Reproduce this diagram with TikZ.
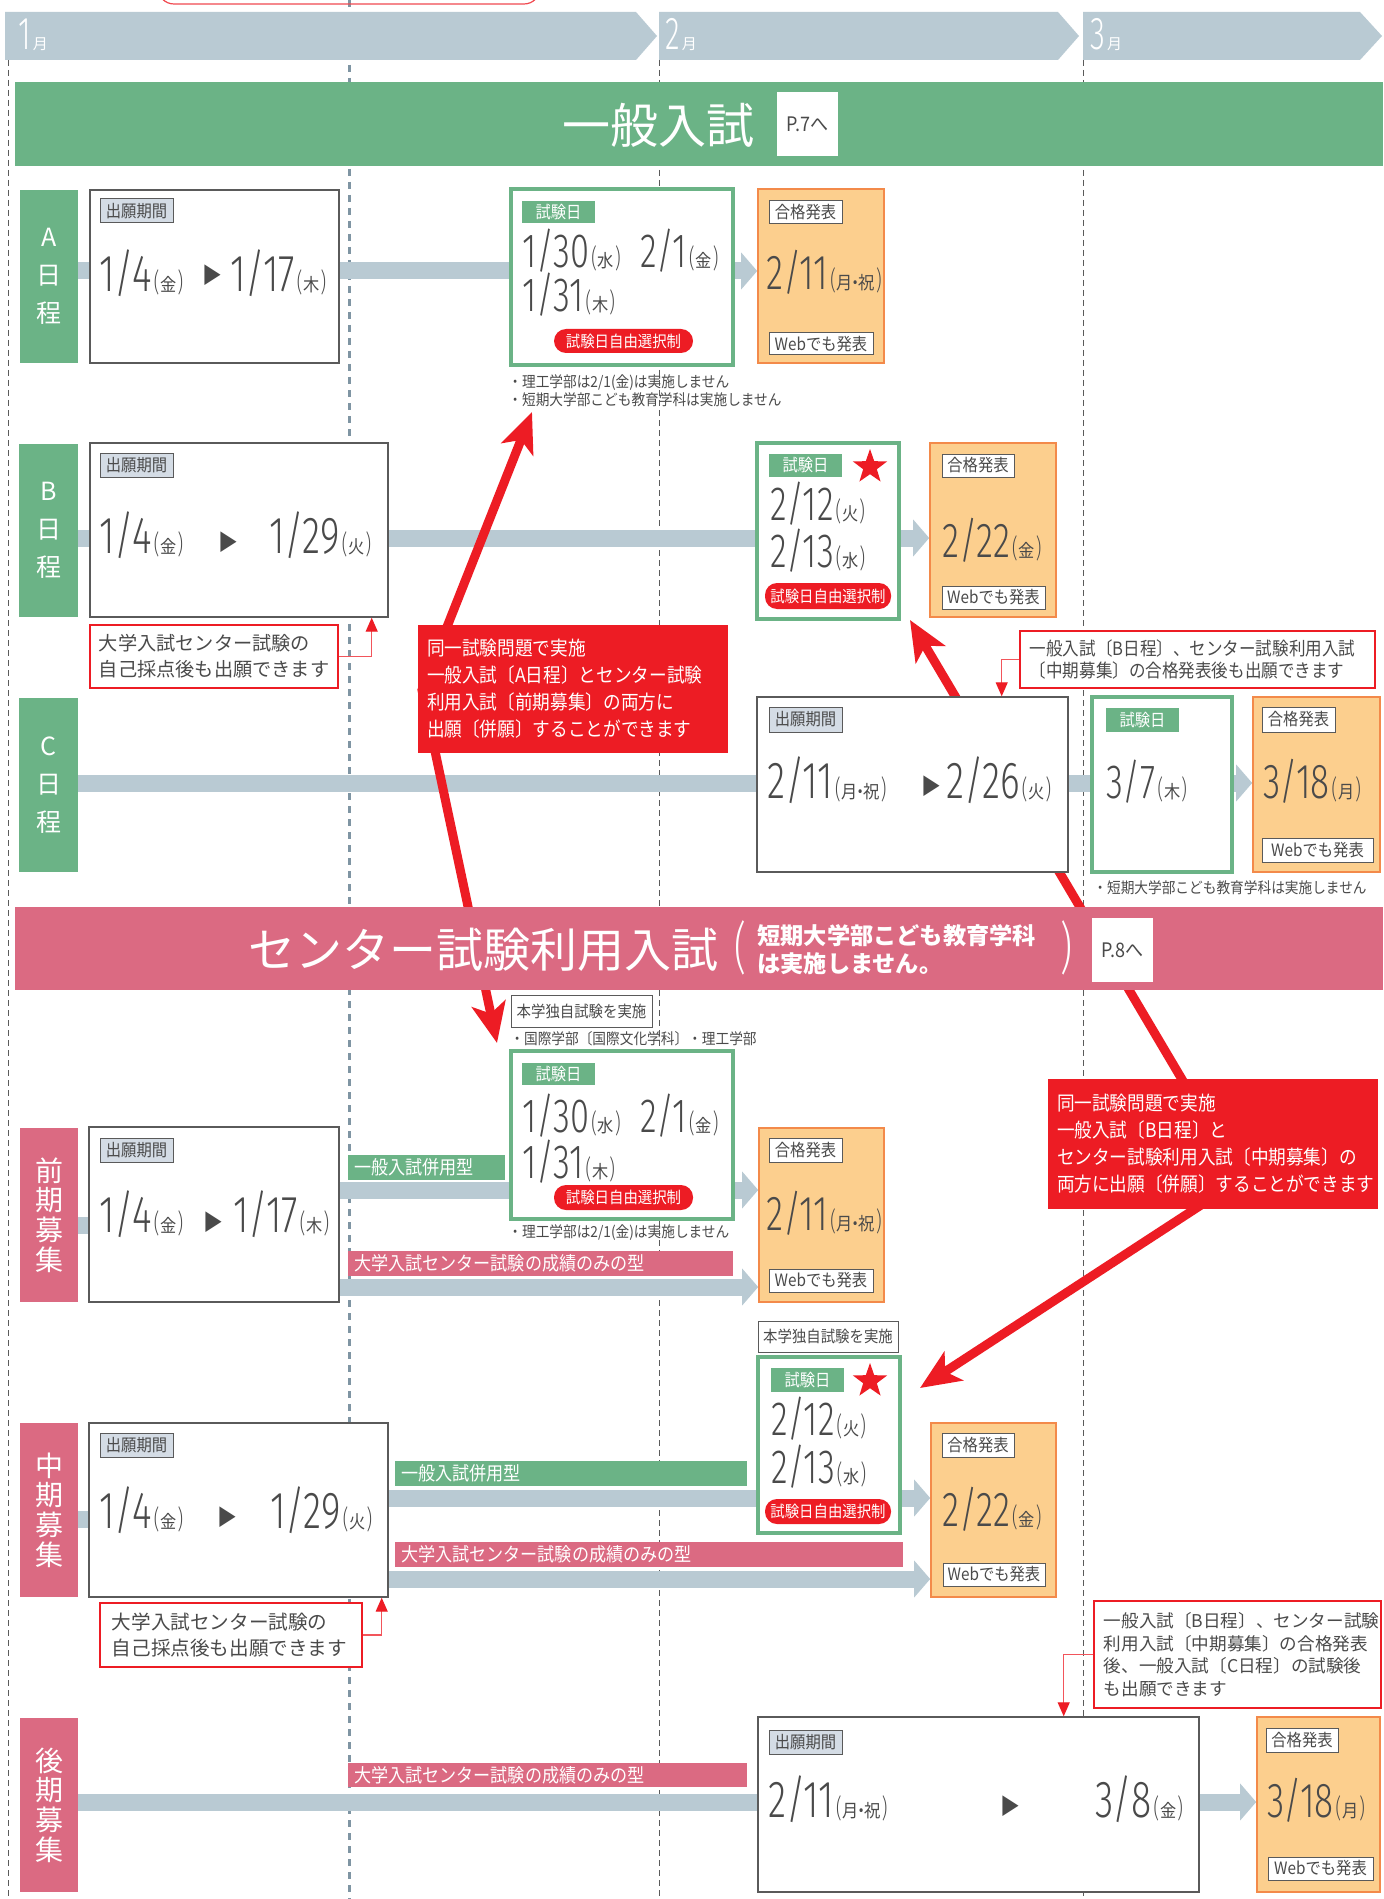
\documentclass[tikz,border=0pt]{standalone}
\usepackage{fontspec}
\setmainfont{Noto Sans CJK JP}
\newfontfamily\jpw{Noto Sans CJK JP}
\newfontfamily\jp{Noto Sans CJK JP}[FakeStretch=0.9]
\newfontfamily\numf{Fira Sans}[UprightFont=* Light, FakeStretch=0.66]
\newfontfamily\bignum{Fira Sans}[UprightFont=* Light, FakeStretch=0.72]
\usetikzlibrary{arrows.meta,fit,shapes.geometric,backgrounds}
\pgfdeclarelayer{bg}
\pgfdeclarelayer{mid}
\pgfsetlayers{bg,mid,main}
\definecolor{bgrey}{HTML}{B9CAD3}
\definecolor{jgreen}{HTML}{6BB386}
\definecolor{jpink}{HTML}{DB6A82}
\definecolor{jred}{HTML}{ED1C24}
\definecolor{ofill}{HTML}{FCCF8E}
\definecolor{oline}{HTML}{F38A4A}
\definecolor{tfill}{HTML}{D4DCE5}
\definecolor{tgrey}{HTML}{4A4A4A}
\definecolor{dgrey}{HTML}{5A5A5A}
\definecolor{dblue}{HTML}{7F95A3}
\newcommand\wday[1]{{\numf\fontsize{13}{13}\selectfont(}\kern0.5pt{\jp\fontsize{9}{9}\selectfont #1}\kern0.5pt{\numf\fontsize{13}{13}\selectfont)}}
\newcommand\dapp[2]{{\bignum\fontsize{26}{26}\selectfont #1}\kern1pt\wday{#2}}
\newcommand\dexam[2]{{\bignum\fontsize{24}{24}\selectfont #1}\kern1pt\wday{#2}}
\newcommand\dres[2]{{\bignum\fontsize{24.5}{24.5}\selectfont #1}\kern1pt\wday{#2}}
\newcommand\hol{月\kern-2.6pt・\kern-2.6pt祝}
\newcommand\monthlbl[1]{{\numf\fontsize{23}{23}\selectfont #1}\kern1pt{\jpw\fontsize{7.5}{7.5}\selectfont 月}}
\newcommand\tagf{\jp\fontsize{8.5}{8.5}\selectfont}

\begin{document}
\begin{tikzpicture}[x=0.5pt, y=-0.5pt,
  every node/.style={inner sep=0pt, text=tgrey},
  side/.style={fill=jgreen, label={[text=white, align=center, font=\jpw\fontsize{12.5}{19}\selectfont]center:#1}},
  side2/.style={fill=jpink, label={[text=white, align=center, font=\jpw\fontsize{14}{14.8}\selectfont]center:#1}},
  appbox/.style={draw=dgrey, line width=0.7pt, fill=white},
  exambox/.style={draw=jgreen, line width=2pt, fill=white},
  resbox/.style={draw=oline, line width=0.8pt, fill=ofill},
  tagbox/.style={draw=dgrey, line width=0.5pt, fill=tfill, label={[font=\tagf]center:#1}},
  wtag/.style={draw=dgrey, line width=0.5pt, fill=white, label={[font=\tagf]center:#1}},
  htag/.style={draw=dgrey, line width=0.5pt, fill=white, label={[font=\jp\fontsize{8}{8}\selectfont]center:#1}},
  etag/.style={fill=jgreen, label={[text=white, font=\tagf]center:#1}},
  pill/.style={fill=jred, rounded corners=6pt, label={[text=white, font=\jp\fontsize{8}{8}\selectfont]center:#1}},
  tagtxt/.style={anchor=west, inner xsep=3pt, text=white, font=\jp\fontsize{9.5}{9.5}\selectfont},
  note/.style={draw=jred, line width=0.6pt, fill=white},
  notetxt/.style={anchor=west, align=left},
  callout/.style={fill=jred, label={[anchor=west, inner xsep=4.5pt, align=left, text=white, font=\jp\fontsize{9.8}{13.5}\selectfont]west:#1}},
  small/.style={anchor=west, align=left, font=\jp\fontsize{7.6}{9}\selectfont},
  datef/.style={anchor=base west},
  tri/.style={font=\jp\fontsize{11}{11}\selectfont},
  redstar/.style={star, star points=5, star point ratio=2.5, fill=jred, minimum size=18pt},
  bar/.style={draw=bgrey, line width=8.5pt},
  barhead/.style={bar, -{Triangle[length=8pt, width=18pt]}},
  redline/.style={draw=jred, line width=4.5pt, {Stealth[length=20pt, width=17pt, inset=5pt]}-{Stealth[length=20pt, width=17pt, inset=5pt]}},
  notearrow/.style={draw=jred!75, line width=0.6pt, -{Triangle[length=7pt, width=6pt, color=jred]}}]
\clip (0,0) rectangle (1383,1899);
\useasboundingbox (0,0) rectangle (1383,1899);

% banners
\node[fill=jgreen, fit={(15,82) (1383,166)}] (gen) {};
\node[text=white, font=\jpw\fontsize{24}{24}\selectfont] (genT) at (658,125) {一般入試};
\node[fill=white, fit={(777,92) (838,156)}, label={[font=\jp\fontsize{10}{10}\selectfont]center:P.7へ}] (genP) {};
\node[fill=jpink, fit={(15,907) (1383,990)}] (cen) {};
\node[text=white, font=\jpw\fontsize{23.5}{23.5}\selectfont] (cenT) at (483,950) {センター試験利用入試};
\node[text=white, font=\numf\fontsize{28}{28}\selectfont] (cenL) at (740,948) {(};
\node[text=white, anchor=west, align=left, font=\jpw\bfseries\fontsize{11.6}{14}\selectfont] (cenS) at (757,950) {短期大学部こども教育学科\\は実施しません。};
\node[text=white, font=\numf\fontsize{28}{28}\selectfont] (cenR) at (1066,948) {)};
\node[fill=white, fit={(1092,918) (1153,982)}, label={[font=\jp\fontsize{10}{10}\selectfont]center:P.8へ}] (cenP) {};

% A
\node[side=A\\日\\程, fit={(20,190) (78,363)}] (aL) {};
\node[appbox, fit={(90,190) (339,363)}] (aA) {};
\node[tagbox=出願期間, fit={(100,199) (173,223)}] (aAt) {};
\node[datef] (aD1) at (99,292) {\dapp{1/4}{金}};
\node[tri] (aTri) at (212,275) {▶};
\node[datef] (aD2) at (230,292) {\dapp{1/17}{木}};
\node[exambox, fit={(511,189) (733,365)}] (aE) {};
\node[etag=試験日, fit={(522,201) (595,223)}] (aEt) {};
\node[datef] (aE1) at (522,268) {\dexam{1/30}{水}};
\node[datef] (aE2) at (640,268) {\dexam{2/1}{金}};
\node[datef] (aE3) at (522,312) {\dexam{1/31}{木}};
\node[pill=試験日自由選択制, fit={(554,329) (693,353)}] (aEp) {};
\node[small] (aN) at (508,391) {・理工学部は2/1(金)は実施しません\\・短期大学部こども教育学科は実施しません};
\node[resbox, fit={(758,189) (884,363)}] (aR) {};
\node[wtag=合格発表, fit={(769,201) (842,224)}] (aRt) {};
\node[datef] (aR1) at (766,290) {\dres{2/11}{\hol}};
\node[wtag=Webでも発表, fit={(769,333) (873,355)}] (aRw) {};

% B
\node[side=B\\日\\程, fit={(19,444) (78,617)}] (bL) {};
\node[appbox, fit={(90,443) (388,617)}] (bA) {};
\node[tagbox=出願期間, fit={(100,453) (173,477)}] (bAt) {};
\node[datef] (bD1) at (99,553) {\dapp{1/4}{金}};
\node[tri] (bTri) at (228,542) {▶};
\node[datef] (bD2) at (269,553) {\dapp{1/29}{火}};
\node[exambox, fit={(757,443) (899,619)}] (bE) {};
\node[etag=試験日, fit={(769,454) (842,477)}] (bEt) {};
\node[redstar] (bS) at (870,467) {};
\node[datef] (bE1) at (770,520) {\dexam{2/12}{火}};
\node[datef] (bE2) at (770,567) {\dexam{2/13}{水}};
\node[pill=試験日自由選択制, fit={(765,583) (891,609)}] (bEp) {};
\node[resbox, fit={(930,443) (1056,617)}] (bR) {};
\node[wtag=合格発表, fit={(942,454) (1014,477)}] (bRt) {};
\node[datef] (bR1) at (942,557) {\dres{2/22}{金}};
\node[wtag=Webでも発表, fit={(942,586) (1045,609)}] (bRw) {};
\node[note, fit={(90,625) (338,688)}, label={[notetxt, inner xsep=4.5pt, font=\jpw\fontsize{9.6}{13}\selectfont]west:大学入試センター試験の\\自己採点後も出願できます}] (bN) {};

% C
\node[side=C\\日\\程, fit={(19,698) (78,872)}] (cL) {};
\node[appbox, fit={(757,697) (1068,872)}] (cA) {};
\node[tagbox=出願期間, fit={(769,707) (842,732)}] (cAt) {};
\node[datef] (cD1) at (767,798) {\dapp{2/11}{\hol}};
\node[tri] (cTri) at (931,786) {▶};
\node[datef] (cD2) at (946,798) {\dapp{2/26}{火}};
\node[exambox, fit={(1092,697) (1232,872)}] (cE) {};
\node[etag=試験日, fit={(1106,708) (1179,732)}] (cEt) {};
\node[datef] (cE1) at (1106,798) {\dexam{3/7}{木}};
\node[resbox, fit={(1253,697) (1380,872)}] (cR) {};
\node[wtag=合格発表, fit={(1262,707) (1335,732)}] (cRt) {};
\node[datef] (cR1) at (1263,798) {\dres{3/18}{月}};
\node[wtag=Webでも発表, fit={(1262,838) (1373,862)}] (cRw) {};
\node[small] (cN) at (1093,888) {・短期大学部こども教育学科は実施しません};
\node[note, fit={(1020,631) (1375,688)}, label={[notetxt, inner xsep=5pt, font=\jp\fontsize{9.2}{11}\selectfont]west:一般入試〔B日程〕、センター試験利用入試\\〔中期募集〕の合格発表後も出願できます}] (cNote) {};
\node[callout=同一試験問題で実施\\一般入試〔A日程〕とセンター試験\\利用入試〔前期募集〕の両方に\\出願〔併願〕することができます, fit={(418,625) (728,753)}] (call1) {};

% zenki
\node[side2=前\\期\\募\\集, fit={(20,1128) (78,1302)}] (fL) {};
\node[appbox, fit={(89,1127) (339,1302)}] (fA) {};
\node[tagbox=出願期間, fit={(100,1138) (173,1162)}] (fAt) {};
\node[datef] (fD1) at (99,1232) {\dapp{1/4}{金}};
\node[tri] (fTri) at (213,1222) {▶};
\node[datef] (fD2) at (233,1232) {\dapp{1/17}{木}};
\node[fill=jgreen, fit={(348,1155) (505,1180)}, label={[tagtxt]west:一般入試併用型}] (fG) {};
\node[fill=jpink, fit={(348,1251) (733,1276)}, label={[tagtxt]west:大学入試センター試験の成績のみの型}] (fP) {};
\node[htag=本学独自試験を実施, fit={(511,995) (652,1027)}] (fH) {};
\node[small] (fHn) at (510,1039) {・国際学部〔国際文化学科〕・理工学部};
\node[exambox, fit={(511,1051) (733,1219)}] (fE) {};
\node[etag=試験日, fit={(522,1063) (595,1085)}] (fEt) {};
\node[datef] (fE1) at (522,1132) {\dexam{1/30}{水}};
\node[datef] (fE2) at (640,1132) {\dexam{2/1}{金}};
\node[datef] (fE3) at (522,1178) {\dexam{1/31}{木}};
\node[pill=試験日自由選択制, fit={(554,1185) (693,1210)}] (fEp) {};
\node[small] (fN) at (508,1233) {・理工学部は2/1(金)は実施しません};
\node[resbox, fit={(759,1128) (884,1302)}] (fR) {};
\node[wtag=合格発表, fit={(769,1138) (842,1162)}] (fRt) {};
\node[datef] (fR1) at (766,1230) {\dres{2/11}{\hol}};
\node[wtag=Webでも発表, fit={(769,1269) (873,1292)}] (fRw) {};

% chuki
\node[side2=中\\期\\募\\集, fit={(20,1423) (78,1597)}] (mL) {};
\node[appbox, fit={(89,1423) (388,1597)}] (mA) {};
\node[tagbox=出願期間, fit={(100,1433) (173,1457)}] (mAt) {};
\node[datef] (mD1) at (99,1528) {\dapp{1/4}{金}};
\node[tri] (mTri) at (227,1517) {▶};
\node[datef] (mD2) at (270,1528) {\dapp{1/29}{火}};
\node[fill=jgreen, fit={(395,1461) (747,1486)}, label={[tagtxt]west:一般入試併用型}] (mG) {};
\node[fill=jpink, fit={(395,1542) (903,1567)}, label={[tagtxt]west:大学入試センター試験の成績のみの型}] (mP) {};
\node[htag=本学独自試験を実施, fit={(758,1321) (898,1352)}] (mH) {};
\node[exambox, fit={(758,1357) (900,1533)}] (mE) {};
\node[etag=試験日, fit={(771,1368) (844,1392)}] (mEt) {};
\node[redstar] (mS) at (870,1381) {};
\node[datef] (mE1) at (771,1435) {\dexam{2/12}{火}};
\node[datef] (mE2) at (771,1483) {\dexam{2/13}{水}};
\node[pill=試験日自由選択制, fit={(765,1499) (891,1524)}] (mEp) {};
\node[resbox, fit={(931,1423) (1056,1597)}] (mR) {};
\node[wtag=合格発表, fit={(942,1433) (1014,1457)}] (mRt) {};
\node[datef] (mR1) at (942,1526) {\dres{2/22}{金}};
\node[wtag=Webでも発表, fit={(943,1563) (1045,1586)}] (mRw) {};
\node[note, fit={(100,1603) (362,1667)}, label={[notetxt, inner xsep=6pt, font=\jpw\fontsize{9.8}{13}\selectfont]west:大学入試センター試験の\\自己採点後も出願できます}] (mN) {};
\node[callout=同一試験問題で実施\\一般入試〔B日程〕と\\センター試験利用入試〔中期募集〕の\\両方に出願〔併願〕することができます, fit={(1048,1079) (1378,1209)}] (call2) {};

% koki
\node[side2=後\\期\\募\\集, fit={(20,1718) (78,1892)}] (lL) {};
\node[fill=jpink, fit={(348,1763) (747,1787)}, label={[tagtxt]west:大学入試センター試験の成績のみの型}] (lP) {};
\node[appbox, fit={(758,1717) (1199,1892)}] (lA) {};
\node[tagbox=出願期間, fit={(769,1730) (842,1754)}] (lAt) {};
\node[datef] (lD1) at (768,1817) {\dapp{2/11}{\hol}};
\node[tri] (lTri) at (1010,1806) {▶};
\node[datef] (lD2) at (1095,1817) {\dapp{3/8}{金}};
\node[resbox, fit={(1257,1717) (1380,1892)}] (lR) {};
\node[wtag=合格発表, fit={(1266,1728) (1338,1752)}] (lRt) {};
\node[datef] (lR1) at (1267,1817) {\dres{3/18}{月}};
\node[wtag=Webでも発表, fit={(1268,1857) (1373,1880)}] (lRw) {};
\node[note, fit={(1094,1601) (1381,1708)}, label={[notetxt, inner xsep=5pt, font=\jpw\fontsize{8.8}{11.3}\selectfont]west:一般入試〔B日程〕、センター試験\\利用入試〔中期募集〕の合格発表\\後、一般入試〔C日程〕の試験後\\も出願できます}] (lN) {};

% months
\node[anchor=base west, text=white] (mon1) at (18,50) {\monthlbl{1}};
\node[anchor=base west, text=white] (mon2) at (665,50) {\monthlbl{2}};
\node[anchor=base west, text=white] (mon3) at (1090,50) {\monthlbl{3}};

\begin{pgfonlayer}{bg}
\fill[white] (0,0) rectangle (1383,1899);
\draw[dgrey, line width=0.5pt, dash pattern=on 3pt off 2pt] (8,60) -- (8,1899);
\draw[dgrey, line width=0.5pt, dash pattern=on 3pt off 2pt] (659,60) -- (659,1899);
\draw[dgrey, line width=0.5pt, dash pattern=on 3pt off 2pt] (1083,60) -- (1083,1899);
\draw[dblue, line width=1.5pt, dash pattern=on 3.5pt off 3pt] (349,0) -- (349,1899);
\draw[jred!80, line width=0.6pt, rounded corners=8pt] (158,-40) rectangle (540,4);
\fill[bgrey] (5,12) -- (636,12) -- (657,36) -- (636,60) -- (5,60) -- cycle;
\fill[bgrey] (659,12) -- (1058,12) -- (1079,36) -- (1058,60) -- (659,60) -- cycle;
\fill[bgrey] (1083,12) -- (1360,12) -- (1382,36) -- (1360,60) -- (1083,60) -- cycle;
\end{pgfonlayer}

\coordinate (aY) at (0,271);
\coordinate (bY) at (0,538);
\coordinate (cY) at (0,783);
\coordinate (fY0) at (0,1225);
\coordinate (fY1) at (0,1190);
\coordinate (fY2) at (0,1287);
\coordinate (mY0) at (0,1519);
\coordinate (mY1) at (0,1498);
\coordinate (mY2) at (0,1579);
\coordinate (lY) at (0,1802);
\coordinate (r1a) at (532,412);
\coordinate (r1b) at (422,690);
\coordinate (r1c) at (497,1043);
\coordinate (r2a) at (910,620);
\coordinate (r2b) at (1241,1179);
\coordinate (r2c) at (920,1388);

\begin{pgfonlayer}{mid}
\draw[bar] (aL.east |- aY) -- (aA.west |- aY);
\draw[bar] (aA.east |- aY) -- (aE.west |- aY);
\draw[barhead] (aE.east |- aY) -- (aR.west |- aY);
\draw[bar] (bL.east |- bY) -- (bA.west |- bY);
\draw[bar] (bA.east |- bY) -- (bE.west |- bY);
\draw[barhead] (bE.east |- bY) -- (bR.west |- bY);
\draw[bar] (cL.east |- cY) -- (cA.west |- cY);
\draw[bar] (cA.east |- cY) -- (cE.west |- cY);
\draw[barhead] (cE.east |- cY) -- (cR.west |- cY);
\draw[bar] (fL.east |- fY0) -- (fA.west |- fY0);
\draw[bar] (fA.east |- fY1) -- (fE.west |- fY1);
\draw[barhead] (fE.east |- fY1) -- (fR.west |- fY1);
\draw[barhead] (fA.east |- fY2) -- (fR.west |- fY2);
\draw[bar] (mL.east |- mY0) -- (mA.west |- mY0);
\draw[bar] (mA.east |- mY1) -- (mE.west |- mY1);
\draw[barhead] (mE.east |- mY1) -- (mR.west |- mY1);
\draw[barhead] (mA.east |- mY2) -- (mR.west |- mY2);
\draw[bar] (lL.east |- lY) -- (lA.west |- lY);
\draw[barhead] (lA.east |- lY) -- (lR.west |- lY);
\draw[redline] (r1a) -- (r1b) -- (r1c);
\draw[redline] (r2a) -- (r2b) -- (r2c);
\end{pgfonlayer}

\draw[notearrow] (bN.east) -| ([shift={(-17,0)}]bA.south east);
\draw[notearrow] (mN.east) -| ([shift={(-7,0)}]mA.south east);
\draw[notearrow] (cNote.west) -| ([shift={(-67,0)}]cA.north east);
\draw[notearrow] (lN.west) -| ([shift={(-136,0)}]lA.north east);
\end{tikzpicture}
\end{document}
